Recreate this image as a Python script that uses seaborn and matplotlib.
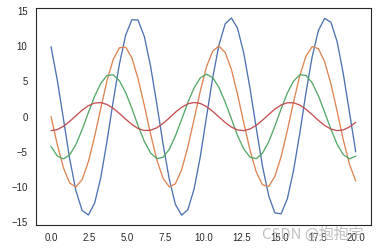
import numpy as np
import pandas as pd
import matplotlib
matplotlib.use("Agg")
import matplotlib.pyplot as plt
import seaborn as sns

x_vals = [0.00, 0.41, 0.82, 1.22, 1.63, 2.04, 2.45, 2.86, 3.27, 3.67,
          4.08, 4.49, 4.90, 5.31, 5.71, 6.12, 6.53, 6.94, 7.35, 7.76,
          8.16, 8.57, 8.98, 9.39, 9.80, 10.20, 10.61, 11.02, 11.43, 11.84,
          12.24, 12.65, 13.06, 13.47, 13.88, 14.29, 14.69, 15.10, 15.51, 15.92,
          16.33, 16.73, 17.14, 17.55, 17.96, 18.37, 18.78, 19.18, 19.59, 20.00]

blue = [9.90, 5.16, -0.43, -5.95, -10.49, -13.31, -13.94, -12.28, -8.60, -3.51,
        2.16, 7.47, 11.56, 13.74, 13.67, 11.36, 7.17, 1.81, -3.84, -8.87,
        -12.44, -13.97, -13.20, -10.26, -5.64, -0.09, 5.48, 10.14, 13.14, 13.98,
        12.52, 9.00, 4.01, -1.64, -7.03, -11.26, -13.64, -13.78, -11.65, -7.61,
        -2.33, 3.35, 8.47, 12.20, 13.92, 13.36, 10.61, 6.11, 0.60, -5.00]

orange = [0.00, -3.97, -7.29, -9.41, -9.98, -8.92, -6.39, -2.81, 1.23, 5.07,
          8.08, 9.75, 9.83, 8.29, 5.39, 1.60, -2.45, -6.10, -8.74, -9.95,
          -9.53, -7.54, -4.31, -0.37, 3.63, 7.03, 9.27, 10.00, 9.08, 6.67,
          3.16, -0.87, -4.75, -7.85, -9.67, -9.89, -8.49, -5.70, -1.97, 2.09,
          5.80, 8.56, 9.91, 9.63, 7.77, 4.64, 0.74, -3.28, -6.76, -9.13]

green = [-4.24, -5.58, -6.00, -5.43, -3.97, -1.86, 0.56, 2.88, 4.73, 5.81,
         5.93, 5.07, 3.39, 1.14, -1.29, -3.51, -5.15, -5.95, -5.77, -4.64,
         -2.75, -0.41, 2.00, 4.08, 5.49, 6.00, 5.52, 4.14, 2.07, -0.33,
         -2.68, -4.59, -5.75, -5.96, -5.19, -3.57, -1.36, 1.07, 3.33, 5.03,
         5.92, 5.83, 4.78, 2.95, 0.63, -1.79, -3.92, -5.40, -5.99, -5.60]

red = [-2.00, -1.84, -1.37, -0.68, 0.12, 0.91, 1.54, 1.92, 1.98, 1.72,
       1.18, 0.44, -0.37, -1.12, -1.69, -1.97, -1.94, -1.59, -0.97, -0.20,
       0.61, 1.31, 1.81, 2.00, 1.86, 1.42, 0.75, -0.05, -0.84, -1.49,
       -1.90, -1.99, -1.76, -1.24, -0.51, 0.30, 1.06, 1.64, 1.96, 1.96,
       1.63, 1.04, 0.27, -0.54, -1.26, -1.77, -1.99, -1.89, -1.47, -0.82]

series_names = ["s1", "s2", "s3", "s4"]
series_values = [blue, orange, green, red]

sns.set_theme(context="notebook", style="white")
plt.rcParams["font.family"] = ["Liberation Sans", "DejaVu Sans"]

frames = []
for name, vals in zip(series_names, series_values):
    frames.append(pd.DataFrame({"x": x_vals, "y": vals, "series": name}))
df = pd.concat(frames, ignore_index=True)

fig = plt.figure(figsize=(377 / 63, 252 / 63), dpi=63)
ax = fig.add_axes([0.095, 0.107, 0.889, 0.861])
sns.lineplot(data=df, x="x", y="y", hue="series", palette="deep",
             estimator=None, sort=False, legend=False, ax=ax)
ax.set_xlabel("")
ax.set_ylabel("")
ax.set_xticks([0.0, 2.5, 5.0, 7.5, 10.0, 12.5, 15.0, 17.5, 20.0])
ax.set_yticks([-15, -10, -5, 0, 5, 10, 15])

fig.text(0.695, 0.07, "CSDN @抱抱宇", fontsize=17,
         family=["Noto Sans CJK SC", "DejaVu Sans"], color="#b0b0b0",
         alpha=0.8, ha="left", va="center")

fig.savefig("out.png", dpi=63)
